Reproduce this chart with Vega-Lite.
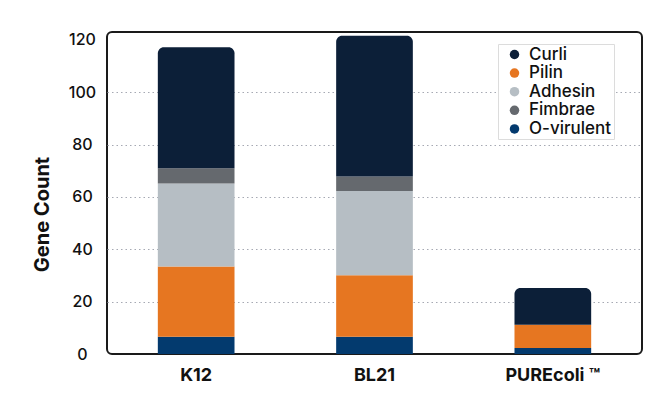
{
  "$schema": "https://vega.github.io/schema/vega-lite/v6.json",
  "width": 535,
  "height": 322,
  "autosize": {"type": "none"},
  "padding": {"left": 107, "top": 32, "right": 29, "bottom": 48},
  "background": "white",
  "config": {
    "font": "Inter",
    "view": {"stroke": "#1a1a1a", "strokeWidth": 2, "cornerRadius": 5}
  },
  "data": {
    "values": [
      {"strain": "K12", "gene": "O-virulent", "rank": 1, "value": 6.6},
      {"strain": "K12", "gene": "Pilin", "rank": 2, "value": 26.8},
      {"strain": "K12", "gene": "Adhesin", "rank": 3, "value": 31.7},
      {"strain": "K12", "gene": "Fimbrae", "rank": 4, "value": 5.9},
      {"strain": "K12", "gene": "Curli", "rank": 5, "value": 46.2},
      {"strain": "BL21", "gene": "O-virulent", "rank": 1, "value": 6.6},
      {"strain": "BL21", "gene": "Pilin", "rank": 2, "value": 23.5},
      {"strain": "BL21", "gene": "Adhesin", "rank": 3, "value": 32.2},
      {"strain": "BL21", "gene": "Fimbrae", "rank": 4, "value": 5.5},
      {"strain": "BL21", "gene": "Curli", "rank": 5, "value": 53.8},
      {"strain": "PUREcoli ™", "gene": "O-virulent", "rank": 1, "value": 2.3},
      {"strain": "PUREcoli ™", "gene": "Pilin", "rank": 2, "value": 8.9},
      {"strain": "PUREcoli ™", "gene": "Curli", "rank": 5, "value": 14.0}
    ]
  },
  "transform": [
    {"stack": "value", "groupby": ["strain"], "sort": [{"field": "rank", "order": "ascending"}], "as": ["y0", "y1"]}
  ],
  "encoding": {
    "x": {
      "field": "strain",
      "type": "nominal",
      "sort": ["K12", "BL21", "PUREcoli ™"],
      "scale": {"paddingInner": 0.57, "paddingOuter": 0.285},
      "axis": {
        "title": null,
        "labelAngle": 0,
        "labelFontSize": 18,
        "labelFontWeight": "bold",
        "labelColor": "#111111",
        "labelPadding": 12,
        "ticks": false,
        "tickSize": 0,
        "domain": false
      }
    },
    "y": {
      "field": "y1",
      "type": "quantitative",
      "scale": {"domain": [0, 123], "nice": false},
      "axis": {
        "title": "Gene Count",
        "titleFontSize": 20,
        "titleFontWeight": "bold",
        "titleColor": "#111111",
        "titleAngle": -90,
        "titleX": -55,
        "titleY": 182,
        "titleAlign": "center",
        "titleBaseline": "bottom",
        "values": [0, 20, 40, 60, 80, 100, 120],
        "labelAlign": "center",
        "labelPadding": 25,
        "ticks": false,
        "tickSize": 0,
        "domain": false,
        "labelFontSize": 16,
        "labelFontWeight": 500,
        "labelColor": "#111111",
        "grid": true,
        "gridDash": [1.5, 3],
        "gridColor": "#a6a9b3",
        "gridWidth": 1.2,
        "gridOpacity": {"condition": {"test": "datum.value == 0 || datum.value == 120", "value": 0}, "value": 1}
      }
    },
    "y2": {"field": "y0"},
    "color": {
      "field": "gene",
      "type": "nominal",
      "scale": {
        "domain": ["Curli", "Pilin", "Adhesin", "Fimbrae", "O-virulent"],
        "range": ["#0c1f38", "#e67621", "#b6bec4", "#65696e", "#033a6e"]
      },
      "legend": {
        "orient": "none",
        "legendX": 391,
        "legendY": 12,
        "title": null,
        "fillColor": "white",
        "strokeColor": "#dcdcdc",
        "padding": 2,
        "symbolType": "circle",
        "symbolSize": 90,
        "symbolOffset": 6,
        "symbolStrokeWidth": 0,
        "labelFontSize": 17,
        "labelFontWeight": 500,
        "labelColor": "#111111",
        "labelOffset": 6,
        "rowPadding": 0.6
      }
    }
  },
  "layer": [
    {"transform": [{"filter": "datum.gene != 'Curli'"}], "mark": {"type": "bar"}},
    {"transform": [{"filter": "datum.gene == 'Curli'"}], "mark": {"type": "bar", "cornerRadiusTopLeft": 6, "cornerRadiusTopRight": 6}}
  ]
}
